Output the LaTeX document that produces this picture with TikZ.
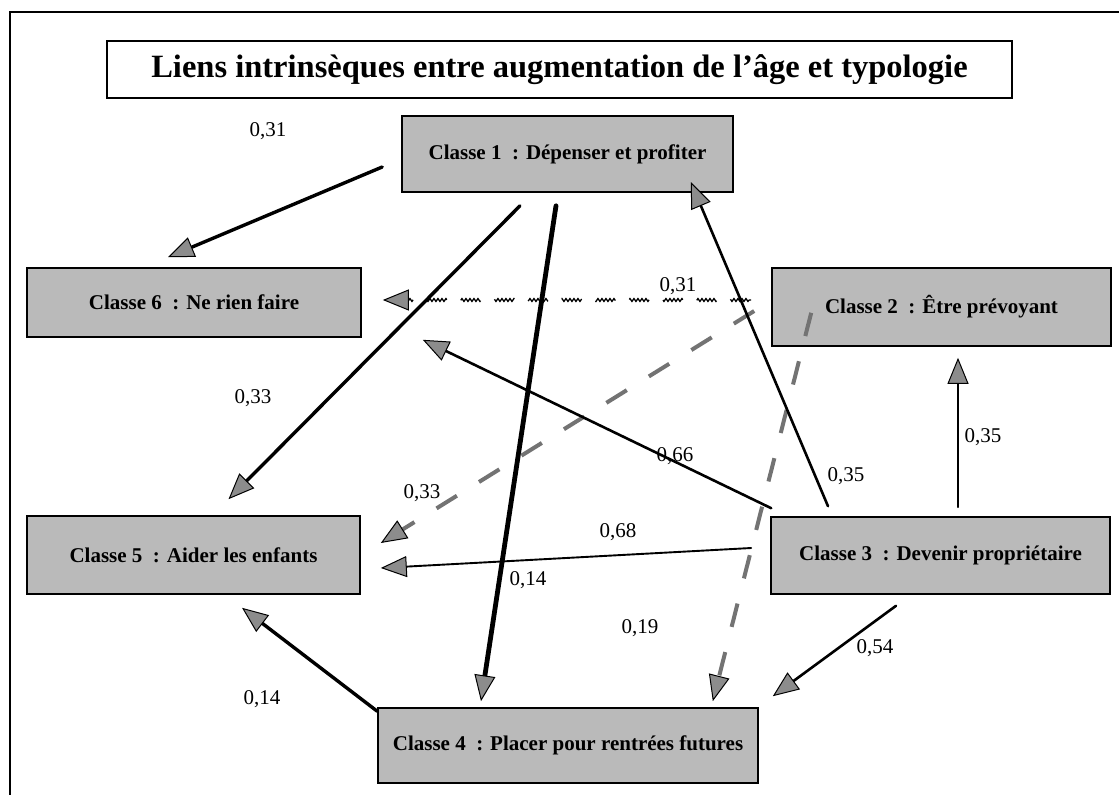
\documentclass[tikz,border=0pt]{standalone}
\usepackage{fontspec}
\setmainfont{Liberation Serif}
\usetikzlibrary{arrows.meta,decorations.pathmorphing}

\begin{document}
\begin{tikzpicture}[x=1pt,y=-1pt,
  classbox/.style={draw=black, line width=1.6pt, fill=black!27, inner sep=0pt,
    font=\bfseries\fontsize{21}{25}\selectfont, align=center},
  weight/.style={font=\fontsize{21}{25}\selectfont, inner sep=1pt},
  >={Triangle[length=26pt,width=21pt,fill=black!45,color=black,line width=1pt]},
  solidlink/.style={->, line width=#1, line cap=round},
  chainlink/.style={->, line width=4pt, draw=black!55, dash pattern=on 24pt off 26pt},
  wavylink/.style={->, line width=1.3pt, dash pattern=on 34pt off 24pt,
    decorate, decoration={snake, amplitude=1.4pt, segment length=4pt, pre length=2pt, post length=4pt}}
]
\useasboundingbox (0,0) rectangle (1119,795);

% page frame
\draw[line width=1.6pt] (10,795) -- (10,12) -- (1119,12);

% title
\node[draw, line width=1.4pt, minimum width=905pt, minimum height=57pt, inner sep=0pt,
  font=\bfseries\fontsize{32.5}{38}\selectfont] (title) at (559.5,69.5)
  {Liens intrinsèques entre augmentation de l’âge et typologie};

% classes
\node[classbox, minimum width=331pt, minimum height=76pt] (c1) at (567.5,154) {Classe 1~ : Dépenser et profiter};
\node[classbox, minimum width=339pt, minimum height=78pt] (c2) at (941.5,307) {Classe 2~ : Être prévoyant};
\node[classbox, minimum width=339pt, minimum height=77pt] (c3) at (940.5,555.5) {Classe 3~ : Devenir propriétaire};
\node[classbox, minimum width=380pt, minimum height=75pt] (c4) at (568,745.5) {Classe 4~ : Placer pour rentrées futures};
\node[classbox, minimum width=333pt, minimum height=78pt] (c5) at (193.5,555) {Classe 5~ : Aider les enfants};
\node[classbox, minimum width=334pt, minimum height=69pt] (c6) at (194,302.5) {Classe 6~ : Ne rien faire};

% links leaving Classe 1
\draw[solidlink=3.4pt] ([shift={(-19,13)}]c1.west) -- ([shift={(-26,-10)}]c6.north);
\draw[solidlink=3.4pt] ([shift={(-47.5,13)}]c1.south) -- ([shift={(35,-16)}]c5.north);
\draw[solidlink=4.8pt] ([shift={(-11.5,13)}]c1.south) -- ([shift={(-87,-6)}]c4.north);

% links leaving Classe 2
\draw[wavylink] ([shift={(-20,-7)}]c2.west) -- ([shift={(21,-2.5)}]c6.east);
\draw[chainlink] ([shift={(-17,4)}]c2.west) -- ([shift={(20,-12)}]c5.east);
\draw[chainlink] ([shift={(40,-34)}]c2.south west) -- ([shift={(-46,-6)}]c4.north east);

% links leaving Classe 3
\draw[solidlink=2.6pt] ([shift={(-112.5,-10)}]c3.north) -- ([shift={(-43,28)}]c1.east);
\draw[solidlink=2.6pt] ([shift={(1,-8)}]c3.north west) -- ([shift={(61,2)}]c6.south east);
\draw[solidlink=1.9pt] ([shift={(-19,-7.5)}]c3.west) -- ([shift={(20,13)}]c5.east);
\draw[solidlink=1.9pt] ([shift={(17.5,-9)}]c3.north) -- ([shift={(16.5,11)}]c2.south);
\draw[solidlink=2.6pt] ([shift={(-44.5,11)}]c3.south) -- ([shift={(14,-11)}]c4.north east);

% link leaving Classe 4
\draw[solidlink=3.4pt] ([shift={(0,4)}]c4.north west) -- ([shift={(48.5,13)}]c5.south);

% weights
\node[weight] (w16) at (268,131) {0,31};
\node[weight] (w15) at (253,398) {0,33};
\node[weight] (w14) at (528,580) {0,14};
\node[weight] (w26) at (678,286) {0,31};
\node[weight] (w25) at (422,493) {0,33};
\node[weight] (w24) at (640,628) {0,19};
\node[weight] (w31) at (846,476) {0,35};
\node[weight] (w36) at (675,456) {0,66};
\node[weight] (w35) at (618,532) {0,68};
\node[weight] (w32) at (983,437) {0,35};
\node[weight] (w34) at (875,648) {0,54};
\node[weight] (w45) at (262,699) {0,14};
\end{tikzpicture}
\end{document}
